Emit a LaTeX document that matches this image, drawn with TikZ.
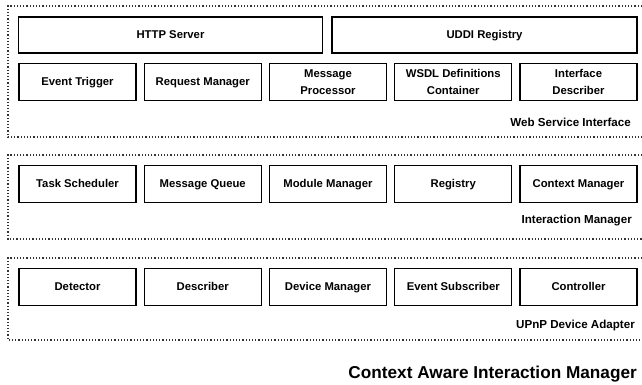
\documentclass[tikz,border=0pt]{standalone}
\usepackage{fontspec}
\setmainfont{Liberation Sans}
\usetikzlibrary{positioning}
\tikzset{
    component/.style={
    rectangle,draw=black,line width=1.3pt,inner sep=0pt,
    minimum width=117pt,minimum height=37pt,align=center,
    text height=9.6pt,text depth=1.8pt,
    font=\fontsize{11.3}{16.5}\selectfont\bfseries
    },
    twoline/.style={
    text height={},text depth={}
    },
    wide/.style={
    component,minimum width=304pt,minimum height=36pt
    },
    layer/.style={
    draw=black!80,line width=1.3pt,dash pattern=on 1.3pt off 1.9pt
    },
    layerlabel/.style={
    anchor=east,inner sep=0pt,font=\fontsize{11.6}{13}\selectfont\bfseries
    },
}

\begin{document}
\begin{tikzpicture}[x=1pt,y=-1pt]
   \useasboundingbox (0,0) rectangle (642,385);
   % web service interface
   \draw[layer] (642,6) -- (8,6) -- (8,137) -- (642,137);
   \node[wide] (http) at (170.5,35) {HTTP Server};
   \node[wide,minimum width=305pt] (uddi) at (484.5,35) {UDDI Registry};
   \node[component] (trigger) at (77.5,82) {Event Trigger};
   \node[component] (request) at (202.75,82) {Request Manager};
   \node[component,twoline] (processor) at (328,82) {Message\\Processor};
   \node[component,twoline] (wsdl) at (453.25,82) {WSDL Definitions\\Container};
   \node[component,twoline] (ifdesc) at (578.5,82) {Interface\\Describer};
   \node[layerlabel] (wsi) at (631,122) {Web Service Interface};
   % interaction manager
   \draw[layer] (642,155) -- (8,155) -- (8,239) -- (642,239);
   \node[component] (tasks) at (77.5,184) {Task Scheduler};
   \node[component] (queue) at (202.75,184) {Message Queue};
   \node[component] (modules) at (328,184) {Module Manager};
   \node[component] (registry) at (453.25,184) {Registry};
   \node[component] (context) at (578.5,184) {Context Manager};
   \node[layerlabel] (im) at (632,221) {Interaction Manager};
   % upnp device adapter
   \draw[layer] (642,258) -- (8,258) -- (8,340) -- (642,340);
   \node[component] (detector) at (77.5,287) {Detector};
   \node[component] (describer) at (202.75,287) {Describer};
   \node[component] (devices) at (328,287) {Device Manager};
   \node[component] (subscriber) at (453.25,287) {Event Subscriber};
   \node[component] (controller) at (578.5,287) {Controller};
   \node[layerlabel] (uda) at (635,325) {UPnP Device Adapter};
   \node[layerlabel,font=\fontsize{17.2}{19}\selectfont\bfseries] (title) at (637,374) {Context Aware Interaction Manager};
\end{tikzpicture}
\end{document}
